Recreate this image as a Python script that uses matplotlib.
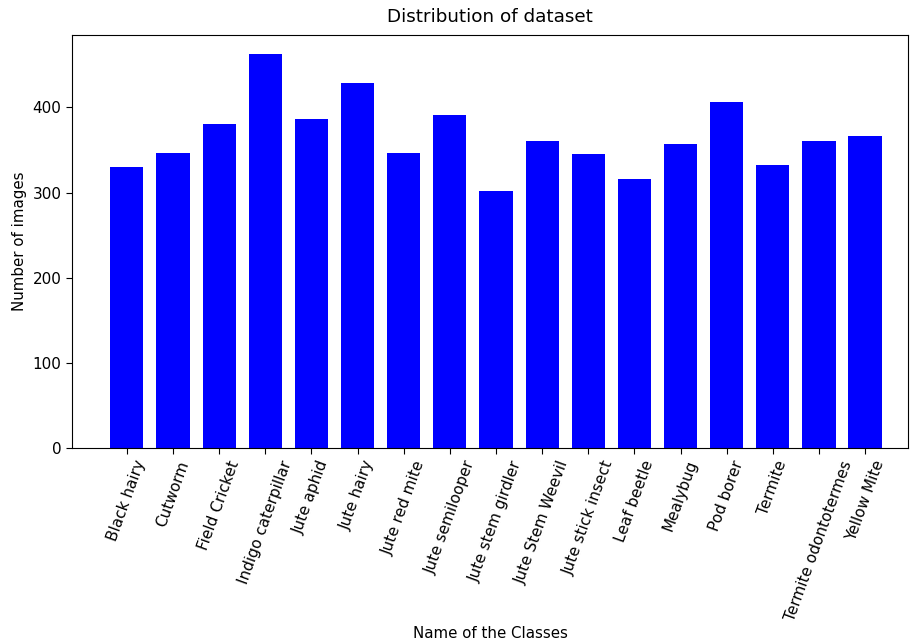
import matplotlib
matplotlib.use("Agg")
import matplotlib.pyplot as plt

classes = ["Black hairy", "Cutworm", "Field Cricket", "Indigo caterpillar", "Jute aphid",
           "Jute hairy", "Jute red mite", "Jute semilooper", "Jute stem girdler",
           "Jute Stem Weevil", "Jute stick insect", "Leaf beetle", "Mealybug", "Pod borer",
           "Termite", "Termite odontotermes", "Yellow Mite"]
counts = [330, 347, 380, 463, 386, 429, 347, 391, 302, 361, 345, 316, 357, 406, 332, 361, 366]
yticks = [0, 100, 200, 300, 400]

fig = plt.figure(figsize=(9.10, 6.44), dpi=100)
ax = fig.add_axes([0.0791, 0.3043, 0.9187, 0.6414])
x = list(range(len(classes)))
ax.bar(x, counts, width=0.72, color="blue")
ax.set_xticks(x)
ax.set_xticklabels(classes, rotation=70, fontsize=11)
ax.set_yticks(yticks)
ax.tick_params(axis="y", labelsize=11)
ax.tick_params(length=4)
ax.set_xlim(-1.19, 16.93)
ax.set_ylim(0, 485)
ax.set_title("Distribution of dataset", fontsize=13.2, pad=9)
ax.set_xlabel("Name of the Classes", fontsize=10.8, labelpad=2)
ax.set_ylabel("Number of images", fontsize=10.8)
fig.savefig("out.png", dpi=100)
